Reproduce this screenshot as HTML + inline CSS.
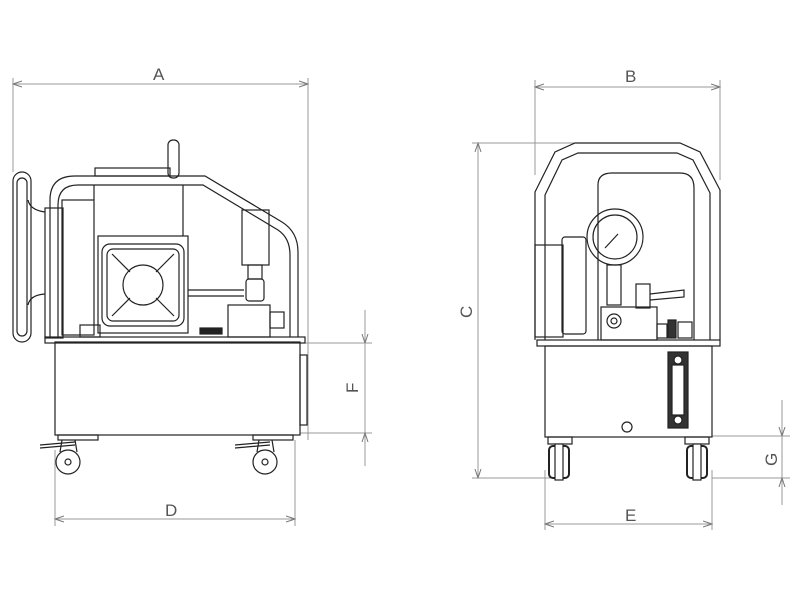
<!DOCTYPE html>
<html><head><style>body{margin:0;background:#fff}svg{display:block}text{font-family:"Liberation Sans",sans-serif;fill:#555;font-size:17px}</style></head><body>
<svg width="800" height="600" viewBox="0 0 800 600" xmlns="http://www.w3.org/2000/svg">
<defs><marker id="a" markerWidth="10" markerHeight="8" refX="9" refY="4" orient="auto-start-reverse"><path d="M0,1 L9,4 L0,7" fill="none" stroke="#777" stroke-width="1"/></marker></defs>
<g stroke="#999" stroke-width="1" fill="none">
<line x1="13" y1="84" x2="308" y2="84" marker-start="url(#a)" marker-end="url(#a)"/>
<line x1="13" y1="78" x2="13" y2="172"/><line x1="308" y1="78" x2="308" y2="440"/>
<line x1="55" y1="519" x2="295" y2="519" marker-start="url(#a)" marker-end="url(#a)"/>
<line x1="55" y1="450" x2="55" y2="526"/><line x1="295" y1="440" x2="295" y2="526"/>
<line x1="300" y1="343" x2="372" y2="343"/><line x1="300" y1="433" x2="372" y2="433"/>
<line x1="365" y1="310" x2="365" y2="343" marker-end="url(#a)"/><line x1="365" y1="343" x2="365" y2="433"/><line x1="365" y1="466" x2="365" y2="433" marker-end="url(#a)"/>
<line x1="535" y1="87" x2="720" y2="87" marker-start="url(#a)" marker-end="url(#a)"/>
<line x1="535" y1="80" x2="535" y2="175"/><line x1="720" y1="80" x2="720" y2="180"/>
<line x1="478" y1="143" x2="478" y2="478" marker-start="url(#a)" marker-end="url(#a)"/>
<line x1="472" y1="143" x2="620" y2="143"/><line x1="472" y1="478" x2="555" y2="478"/>
<line x1="545" y1="524" x2="712" y2="524" marker-start="url(#a)" marker-end="url(#a)"/>
<line x1="545" y1="470" x2="545" y2="530"/><line x1="712" y1="470" x2="712" y2="530"/>
<line x1="712" y1="436" x2="790" y2="436"/><line x1="712" y1="478" x2="790" y2="478"/>
<line x1="782" y1="400" x2="782" y2="436" marker-end="url(#a)"/><line x1="782" y1="436" x2="782" y2="478"/><line x1="782" y1="505" x2="782" y2="478" marker-end="url(#a)"/>
</g>
<text x="153" y="80">A</text><text x="165" y="516">D</text><text x="625" y="82">B</text><text x="625" y="521">E</text>
<text transform="translate(358,393) rotate(-90)">F</text>
<text transform="translate(472,318) rotate(-90)">C</text>
<text transform="translate(777,466) rotate(-90)">G</text>

<g stroke="#222" stroke-width="1.2" fill="none">
<rect x="55" y="342" width="245" height="93"/>
<rect x="45" y="337" width="260" height="6"/>
<rect x="58" y="435" width="40" height="5"/><rect x="253" y="435" width="40" height="5"/>
<path d="M40,445 L75,442 M40,448 L75,445"/><path d="M235,445 L270,442 M235,448 L270,445"/>
<circle cx="68" cy="462" r="12"/><circle cx="68" cy="462" r="3"/><path d="M62,440 L60,452 M75,440 L77,452"/>
<circle cx="265" cy="462" r="12"/><circle cx="265" cy="462" r="3"/><path d="M259,440 L257,452 M272,440 L274,452"/>
<rect x="300" y="355" width="7" height="70"/>
<path d="M50,337 L50,200 Q50,176 75,176 L205,176 L282,222 Q298,232 298,252 L298,337"/>
<path d="M58,337 L58,205 Q58,185 78,185 L203,185 L278,230 Q290,238 290,255 L290,337"/>
<rect x="168" y="140" width="11" height="38" rx="5"/>
<rect x="95" y="168" width="75" height="8"/>
<rect x="13" y="172" width="18" height="170" rx="9"/><rect x="17" y="178" width="10" height="158" rx="5"/>
<path d="M28,200 Q30,210 45,212 M28,305 Q30,295 45,294"/>
<rect x="45" y="208" width="18" height="130"/><rect x="62" y="200" width="32" height="135"/>
<line x1="94" y1="185" x2="94" y2="200"/><line x1="183" y1="185" x2="183" y2="236"/>
<rect x="98" y="236" width="90" height="97"/>
<rect x="102" y="244" width="82" height="82" rx="8"/><rect x="107" y="249" width="72" height="72" rx="6"/>
<circle cx="143" cy="285" r="20"/>
<path d="M112,254 L130,272 M174,254 L156,272 M112,316 L130,298 M174,316 L156,298"/>
<rect x="80" y="325" width="20" height="12"/>
<line x1="188" y1="290" x2="244" y2="290"/><line x1="188" y1="296" x2="244" y2="296"/>
<rect x="242" y="210" width="27" height="55"/>
<rect x="248" y="265" width="14" height="14"/><rect x="246" y="279" width="18" height="22" rx="3"/>
<rect x="228" y="305" width="42" height="32"/><rect x="270" y="312" width="14" height="16"/>
<rect x="200" y="328" width="22" height="6" fill="#222"/>
<!-- RIGHT -->
<rect x="545" y="346" width="167" height="91"/>
<rect x="537" y="340" width="183" height="6"/>
<path d="M535,340 L535,192 L555,152 L575,143 L680,143 L700,152 L720,190 L720,340"/>
<path d="M545,340 L545,195 L562,160 L578,153 L677,153 L693,160 L710,193 L710,340"/>
<path d="M598,340 L598,185 Q598,173 612,173 L680,173 Q694,173 694,188 L694,340"/>
<rect x="535" y="245" width="28" height="92"/>
<rect x="562" y="237" width="24" height="97" rx="3"/>
<circle cx="615" cy="237" r="28"/><circle cx="615" cy="237" r="22"/>
<path d="M605,248 L618,234"/>
<rect x="607" y="265" width="14" height="40"/>
<rect x="601" y="307" width="56" height="33"/><circle cx="614" cy="321" r="7"/><circle cx="614" cy="321" r="3"/>
<rect x="636" y="284" width="14" height="24"/><path d="M650,294 L684,290 L684,297 L650,300"/>
<rect x="657" y="324" width="10" height="14"/><rect x="668" y="320" width="8" height="18" fill="#333"/><rect x="678" y="322" width="14" height="16"/>
<rect x="668" y="352" width="20" height="76" fill="#333"/><rect x="672" y="365" width="12" height="50" fill="#fff"/>
<circle cx="678" cy="360" r="4" fill="#fff"/><circle cx="678" cy="420" r="4" fill="#fff"/>
<circle cx="627" cy="427" r="5"/>
<rect x="548" y="437" width="24" height="7"/><rect x="685" y="437" width="24" height="7"/>
<rect x="549" y="446" width="20" height="32" rx="4" stroke-width="2"/><rect x="555" y="444" width="8" height="36" fill="#fff"/>
<rect x="687" y="446" width="20" height="32" rx="4" stroke-width="2"/><rect x="693" y="444" width="8" height="36" fill="#fff"/>
</g>
</svg>
</body></html>
